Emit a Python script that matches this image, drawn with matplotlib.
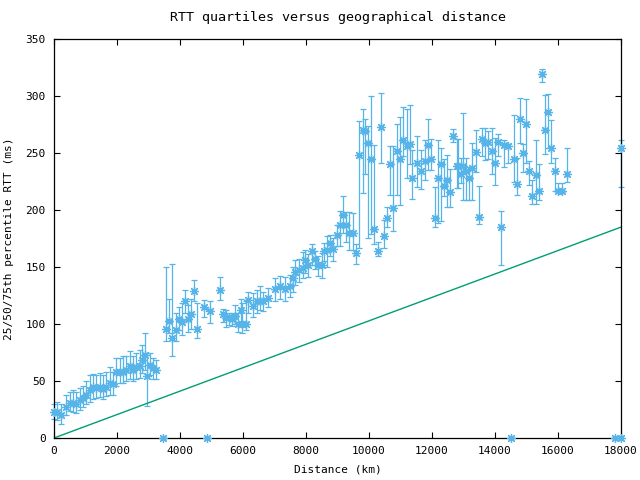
import numpy as np
import matplotlib.pyplot as plt

# RTT quartiles per distance bin (km, ms)
dist = [0, 105, 212, 390, 497, 603, 709, 815, 920, 1026, 1132, 1238, 1344, 1450, 1555, 1660,
        1767, 1873, 1979, 2085, 2190, 2296, 2402, 2508, 2614, 2720, 2794, 2878, 2952, 3037, 3143, 3248,
        3556, 3661, 3756, 3863, 3968, 4073, 4159, 4265, 4349, 4454, 4540, 4771, 4962, 5279, 5375, 5460,
        5555, 5640, 5735, 5851, 5930, 5979, 6085, 6169, 6307, 6434, 6540, 6624,
        6804, 7016, 7175, 7333, 7492, 7577, 7651, 7788, 7894, 7968, 8073, 8180, 8286, 8391, 8497, 8571,
        8677, 8762, 8868, 8995, 9079, 9164, 9270, 9376, 9482, 9577,
        9692, 9800, 9884, 9979, 10074, 10170, 10296, 10392, 10487, 10582, 10677, 10773, 10900, 10995,
        11090, 11196, 11302, 11375, 11514, 11641, 11778, 11884, 11979, 12085, 12200, 12295, 12390,
        12486, 12581, 12676, 12803,
        12835, 12921, 12984, 13079, 13175, 13280, 13397, 13492, 13598, 13683, 13788, 13894, 13999,
        14105, 14200, 14295, 14402, 14613, 14698, 14803, 14899, 14984, 15089, 15184, 15302, 15407,
        15502, 15587, 15692, 15788, 15905, 16010, 16117, 16296, 18000,
        3460, 4857, 14508, 17810, 18000]
q50 = [23, 23, 20, 27, 31, 31, 30, 33, 35, 38, 42, 45, 44, 45, 43, 45,
       48, 47, 58, 58, 58, 60, 63, 60, 62, 63, 68, 73, 54, 64, 61, 60,
       96, 103, 88, 95, 104, 102, 120, 104, 109, 129, 96, 115, 111, 130, 109, 105,
       106, 104, 107, 100, 112, 100, 100, 121, 116, 120, 120, 120,
       123, 131, 133, 131, 133, 140, 146, 147, 149, 156, 152, 164, 157, 152, 152, 164,
       165, 171, 166, 178, 187, 196, 187, 180, 180, 162,
       248, 270, 269, 259, 245, 183, 164, 273, 177, 193, 240, 202, 252, 245,
       261, 256, 258, 228, 241, 234, 243, 257, 245, 193, 228, 240, 221,
       226, 216, 265, 239,
       239, 232, 239, 234, 228, 237, 251, 194, 262, 259, 260, 252, 241,
       260, 185, 257, 256, 245, 223, 280, 250, 275, 234, 212, 231, 217,
       319, 270, 286, 254, 234, 217, 217, 232, 254,
       0, 0, 0, 0, 0]
q25 = [17, 16, 12, 20, 24, 23, 22, 25, 27, 30, 32, 34, 35, 36, 34, 37,
       38, 38, 46, 48, 48, 50, 52, 50, 52, 53, 57, 60, 28, 55, 52, 52,
       85, 92, 72, 85, 95, 90, 110, 93, 96, 120, 88, 106, 101, 121, 102, 97,
       99, 98, 100, 93, 100, 92, 95, 110, 106, 110, 112, 111,
       115, 120, 122, 120, 124, 128, 134, 137, 140, 145, 141, 152, 148, 142, 140, 155,
       150, 160, 155, 168, 168, 180, 172, 165, 165, 153,
       167, 215, 232, 175, 179, 170, 160, 241, 167, 185, 213, 182, 213, 204,
       247, 228, 240, 210, 220, 218, 226, 235, 235, 185, 189, 190, 212,
       203, 203, 260, 219,
       219, 224, 209, 209, 209, 209, 233, 188, 247, 244, 245, 232, 222,
       247, 152, 238, 241, 225, 213, 259, 233, 241, 222, 205, 205, 209,
       312, 249, 254, 241, 217, 216, 216, 225, 220,
       0, 0, 0, 0, 0]
q75 = [30, 32, 30, 38, 40, 42, 40, 44, 46, 50, 55, 56, 55, 57, 55, 58,
       62, 58, 70, 70, 72, 72, 76, 72, 75, 77, 82, 92, 75, 75, 70, 68,
       150, 122, 153, 110, 115, 118, 130, 117, 122, 139, 118, 121, 120, 141, 113, 112,
       110, 110, 117, 110, 122, 118, 120, 128, 127, 130, 133, 128,
       132, 140, 142, 141, 143, 150, 156, 157, 163, 165, 161, 170, 164, 160, 162, 171,
       177, 178, 175, 187, 199, 212, 198, 198, 197, 170,
       278, 289, 280, 274, 300, 257, 172, 303, 191, 203, 256, 256, 275, 282,
       290, 289, 292, 253, 265, 253, 261, 280, 262, 220, 261, 254, 245,
       248, 236, 271, 262,
       262, 246, 285, 246, 238, 259, 270, 221, 272, 272, 269, 272, 263,
       267, 199, 261, 258, 283, 246, 298, 258, 297, 243, 226, 261, 240,
       324, 301, 302, 279, 246, 224, 224, 254, 261,
       0, 0, 0, 0, 0]

# speed-of-light-in-fibre bound
bound_x = [0, 18000]
bound_y = [0, 185]

plt.rcParams['font.family'] = 'DejaVu Sans Mono'
plt.rcParams['font.size'] = 8

fig = plt.figure(figsize=(6.4, 4.8), dpi=100)
ax = fig.add_axes([54/640, 1-438/480, 567/640, 399/480])

d = np.array(dist)
m = np.array(q50)
yerr = [m - np.array(q25), np.array(q75) - m]
eb = ax.errorbar(d, m, yerr=yerr, fmt='none', ecolor='#56B4E9', elinewidth=0.9,
                 capsize=2.5, capthick=0.9, zorder=2)
for art in eb.lines[1] + eb.lines[2]:
    art.set_clip_on(False)
for art in eb.lines[2]:
    art.set_clip_on(False)
ax.plot(d, m, linestyle='none', marker=(8, 2, 0), markersize=6.5, color='#56B4E9',
        markeredgewidth=0.9, clip_on=False, zorder=3)
ax.plot(bound_x, bound_y, color='#009E73', linewidth=1.0, zorder=2)

ax.set_xlim(0, 18000)
ax.set_ylim(0, 350)
ax.set_xticks(np.arange(0, 18001, 2000))
ax.set_yticks(np.arange(0, 351, 50))
ax.tick_params(direction='in', length=4, width=0.8, top=True, right=True, pad=6)
for s in ax.spines.values():
    s.set_linewidth(0.9)

ax.set_title('RTT quartiles versus geographical distance', pad=13)
ax.set_xlabel('Distance (km)', labelpad=6)
ax.set_ylabel('25/50/75th percentile RTT (ms)', labelpad=8)

fig.savefig('out.png', dpi=100)
